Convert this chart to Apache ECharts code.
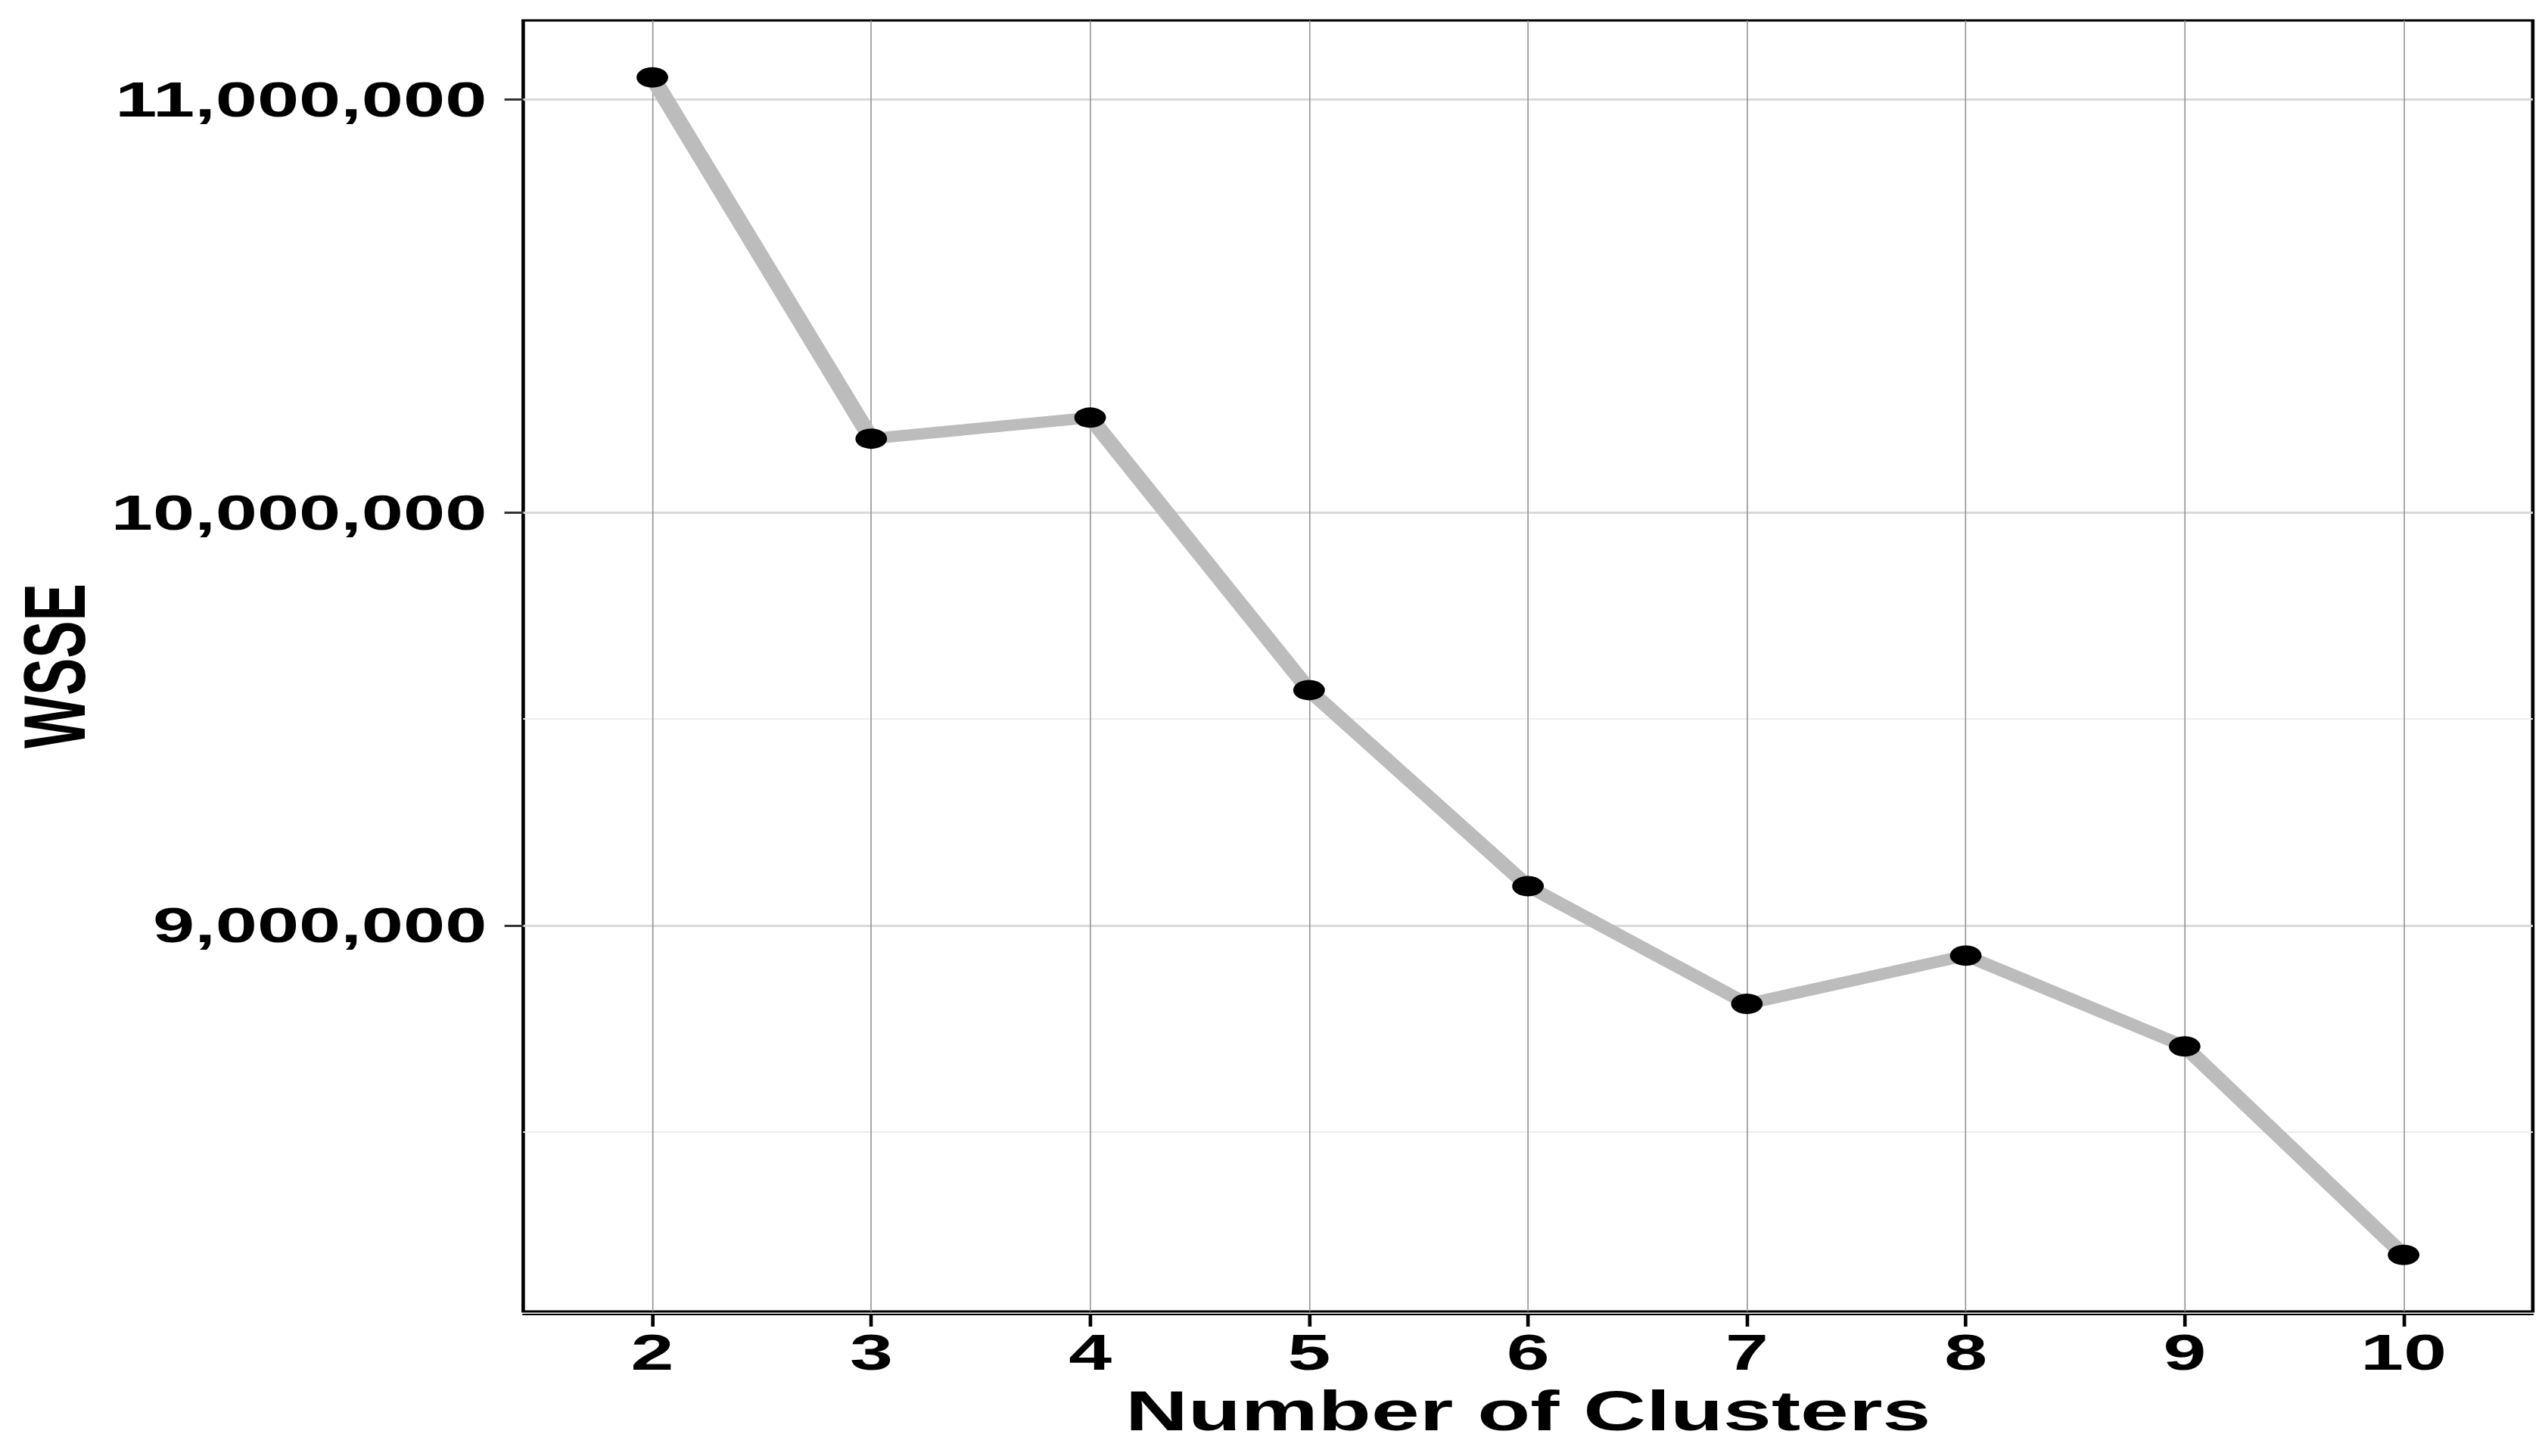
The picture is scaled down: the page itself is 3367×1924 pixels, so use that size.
<!DOCTYPE html>
<html>
<head>
<meta charset="utf-8">
<script src="https://cdn.jsdelivr.net/npm/echarts@6/dist/echarts.min.js"></script>
<style>
  html, body { margin: 0; padding: 0; background: #fff; overflow: hidden; }
  /* the source picture is stretched sideways, so draw narrow and stretch */
  #main { width: 2172px; height: 1924px; transform: scaleX(1.5502); transform-origin: 0 0; }
</style>
</head>
<body>
<div id="main"></div>
<script>
// data
var clusters = [2, 3, 4, 5, 6, 7, 8, 9, 10];
var wsse = [11054000, 10179000, 10230000, 9570000, 9095000, 8810000, 8927000, 8707000, 8202000];
var xTicks = [2, 3, 4, 5, 6, 7, 8, 9, 10];
var yTicks = [9000000, 10000000, 11000000];
var yFaint = [8500000, 9500000];

var FONT = '"Liberation Sans", Arial, Helvetica, sans-serif';

var chart = echarts.init(document.getElementById('main'), null, { renderer: 'svg' });

var option = {
  animation: false,
  backgroundColor: '#fff',
  grid: {
    left: 446, right: 13, top: 27, bottom: 191,
    outerBoundsMode: 'none',
    containLabel: false,
    show: true, borderColor: '#000', borderWidth: 3, backgroundColor: 'transparent'
  },
  xAxis: {
    type: 'value',
    min: 1.41, max: 10.59,
    offset: 4,
    name: 'Number of Clusters',
    nameLocation: 'middle',
    nameGap: 90,
    nameTextStyle: { fontFamily: FONT, fontWeight: 'bold', fontSize: 74, color: '#000' },
    axisLine: { show: true, lineStyle: { color: '#000', width: 2 } },
    axisTick: { show: true, length: 16, customValues: xTicks, lineStyle: { color: '#000', width: 3 } },
    axisLabel: {
      customValues: xTicks, margin: 17,
      fontFamily: FONT, fontWeight: 'bold', fontSize: 66, color: '#000'
    },
    splitLine: { show: true, lineStyle: { color: '#909090', width: 1 } }
  },
  yAxis: [{
    type: 'value',
    min: 8065000, max: 11192000,
    name: 'WSSE',
    nameLocation: 'middle',
    nameGap: 363,
    nameTextStyle: { fontFamily: FONT, fontWeight: 'bold', fontSize: 74, lineHeight: 62, color: '#000' },
    axisLine: { show: false },
    axisTick: { show: true, length: 16, customValues: yTicks, lineStyle: { color: '#333', width: 3 } },
    axisLabel: {
      customValues: yTicks, margin: 31,
      fontFamily: FONT, fontWeight: 'bold', fontSize: 64, color: '#000',
      formatter: function (v) { return v.toLocaleString('en-US'); }
    },
    splitLine: { show: true, lineStyle: { color: '#d9d9d9', width: 3 } }
  }, {
    type: 'value',
    min: 8065000, max: 11192000,
    position: 'left',
    axisLine: { show: false },
    axisTick: { show: false, customValues: yFaint },
    axisLabel: { show: false, customValues: yFaint },
    splitLine: { show: true, lineStyle: { color: '#eeeeee', width: 2 } }
  }],
  series: [{
    type: 'line',
    data: clusters.map(function (c, i) { return [c, wsse[i]]; }),
    symbol: 'circle',
    symbolSize: 27,
    lineStyle: { color: '#bcbcbc', width: 15 },
    itemStyle: { color: '#000' },
    z: 5
  }]
};

chart.setOption(option);
</script>
</body>
</html>
